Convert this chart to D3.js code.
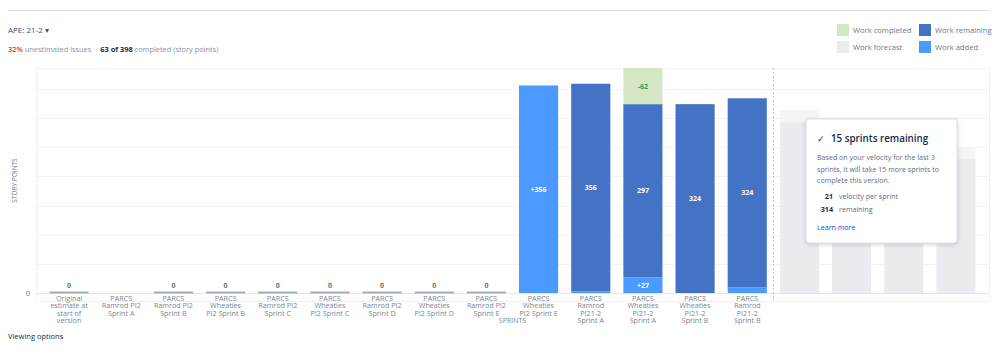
<!DOCTYPE html>
<html>
<head>
<meta charset="utf-8">
<script src="https://cdn.jsdelivr.net/npm/d3@7"></script>
<style>
  body { margin: 0; background: #fff; font-family: "Open Sans", sans-serif; }
  svg text { font-family: "Open Sans", sans-serif; }
</style>
</head>
<body>
<div id="chart"></div>
<script>
// sprint names ("\n" = line break in the axis label)
const sprints = [
  "Original\nestimate at\nstart of\nversion",
  "PARCS\nRamrod PI2\nSprint A",
  "PARCS\nRamrod PI2\nSprint B",
  "PARCS\nWheaties\nPI2 Sprint B",
  "PARCS\nRamrod PI2\nSprint C",
  "PARCS\nWheaties\nPI2 Sprint C",
  "PARCS\nRamrod PI2\nSprint D",
  "PARCS\nWheaties\nPI2 Sprint D",
  "PARCS\nRamrod PI2\nSprint E",
  "PARCS\nWheaties\nPI2 Sprint E",
  "PARCS\nRamrod\nPI21-2\nSprint A",
  "PARCS\nWheaties\nPI21-2\nSprint A",
  "PARCS\nWheaties\nPI21-2\nSprint B",
  "PARCS\nRamrod\nPI21-2\nSprint B"
];
const forecastSprints = ["f1", "f2", "f3", "f4"];

// story points per sprint (null = no data)
const added     = [0, null, 0, 0, 0, 0, 0, 0, 0, 356, 3, 27, 0, 10];
const remaining = [0, null, 0, 0, 0, 0, 0, 0, 0, 0, 356, 297, 324, 324];
const completed = [0, null, 0, 0, 0, 0, 0, 0, 0, 0, 0, 62, 0, 0];

// forecast
const forecastTotal = [314, 293, 272, 251];
const forecastDone  = [21, 21, 21, 21];

const yMax = 386;
const yTicks = [0, 50, 100, 150, 200, 250, 300, 350];

const legendItems = [
  {name: "Work completed", color: "#d6e7c6"},
  {name: "Work forecast", color: "#ebecf0"},
  {name: "Work remaining", color: "#4472c4"},
  {name: "Work added", color: "#4c9aff"}
];

const W = 998, H = 351;
const svg = d3.select("#chart").append("svg")
  .attr("width", W).attr("height", H);

// header
svg.append("line")
  .attr("x1", 8).attr("x2", 990).attr("y1", 10.5).attr("y2", 10.5)
  .attr("stroke", "#dfe1e6");

svg.append("text").attr("x", 8).attr("y", 33)
  .attr("font-size", 8).attr("fill", "#42526e")
  .text("APE: 21-2 \u25BE");

var sub = svg.append("text").attr("x", 8).attr("y", 52).attr("font-size", 7.4);
sub.append("tspan").attr("fill", "#de350b").attr("font-weight", 600).text("32%");
sub.append("tspan").attr("fill", "#8993a4").text(" unestimated issues");
sub.append("tspan").attr("fill", "#172b4d").attr("font-weight", 700).attr("dx", 9).text("63 of 398");
sub.append("tspan").attr("fill", "#8993a4").text(" completed (story points)");

// legend
var lg = svg.append("g").selectAll("g").data(legendItems).enter().append("g")
  .attr("transform", (d, i) => "translate(" + (837 + Math.floor(i / 2) * 82) + "," + (24 + (i % 2) * 17) + ")");
lg.append("rect").attr("width", 12).attr("height", 12).attr("fill", d => d.color);
lg.append("text").attr("x", 16).attr("y", 8.5).attr("font-size", 7.6)
  .attr("fill", "#6b778c").text(d => d.name);

// plot area
const pLeft = 36, pRight = 989, pTop = 68, pBottom = 293;

var x = d3.scaleBand()
  .domain(sprints.concat(forecastSprints))
  .range([43, 982])
  .paddingInner(0.25)
  .paddingOuter(0.125);

var y = d3.scaleLinear().domain([0, yMax]).range([pBottom, pTop]);

svg.append("rect")
  .attr("x", pLeft + 0.5).attr("y", pTop + 0.5)
  .attr("width", pRight - pLeft).attr("height", pBottom - pTop + 8)
  .attr("fill", "none").attr("stroke", "#f0f1f3");

// gridlines
svg.append("g").selectAll("line").data(yTicks).enter().append("line")
  .attr("x1", pLeft).attr("x2", pRight)
  .attr("y1", d => Math.round(y(d)) + 0.5).attr("y2", d => Math.round(y(d)) + 0.5)
  .attr("stroke", d => d == 0 ? "#e4e6ea" : "#f1f2f4");

svg.append("text").attr("x", 30).attr("y", y(0) + 3)
  .attr("text-anchor", "end").attr("font-size", 7.5).attr("fill", "#6b778c").text("0");

svg.append("text")
  .attr("transform", "translate(17," + ((pTop + pBottom) / 2) + ") rotate(-90)")
  .attr("text-anchor", "middle").attr("font-size", 6.5).attr("fill", "#6b778c")
  .text("STORY POINTS");

// forecast bars
var fc = svg.append("g").selectAll("g").data(forecastSprints).enter().append("g");
fc.append("rect")
  .attr("x", d => x(d)).attr("width", x.bandwidth())
  .attr("y", (d, i) => y(forecastTotal[i] - forecastDone[i]))
  .attr("height", (d, i) => y(0) - y(forecastTotal[i] - forecastDone[i]))
  .attr("fill", "#ebecf0");
fc.append("rect")
  .attr("x", d => x(d)).attr("width", x.bandwidth())
  .attr("y", (d, i) => y(forecastTotal[i]))
  .attr("height", (d, i) => y(forecastTotal[i] - forecastDone[i]) - y(forecastTotal[i]))
  .attr("fill", "#f4f5f7");

// divider between actual and forecast
var divX = x(sprints[sprints.length - 1]) + x.bandwidth() + x.step() * x.paddingInner() / 2;
svg.append("line")
  .attr("x1", Math.round(divX) + 0.5).attr("x2", Math.round(divX) + 0.5)
  .attr("y1", pTop).attr("y2", pBottom + 8)
  .attr("stroke", "#c1c7d0").attr("stroke-dasharray", "2,2");

// sprint bars
var bars = svg.append("g").selectAll("g").data(sprints).enter().append("g");

bars.each(function(d, i) {
  var g = d3.select(this);
  var bx = x(d), bw = x.bandwidth();
  if (added[i] === null) return;
  var a = added[i], r = remaining[i], c = completed[i];
  if (a + r + c == 0) {
    // empty sprint: thin base line and a 0
    g.append("rect").attr("x", bx).attr("width", bw)
      .attr("y", y(0) - 1.5).attr("height", 2).attr("fill", "#a5adba");
    g.append("text").attr("x", bx + bw / 2).attr("y", y(0) - 5)
      .attr("text-anchor", "middle").attr("font-size", 7).attr("font-weight", 700)
      .attr("fill", "#6b6f78").text("0");
    return;
  }
  if (a > 0) {
    g.append("rect").attr("x", bx).attr("width", bw)
      .attr("y", y(a)).attr("height", y(0) - y(a)).attr("fill", "#4c9aff");
    if (a >= 20) {
      g.append("text").attr("x", bx + bw / 2).attr("y", (y(0) + y(a)) / 2 + 2.5)
        .attr("text-anchor", "middle").attr("font-size", 7).attr("font-weight", 700)
        .attr("fill", "#fff").text("+" + a);
    }
  }
  if (r > 0) {
    g.append("rect").attr("x", bx).attr("width", bw)
      .attr("y", y(a + r)).attr("height", y(a) - y(a + r)).attr("fill", "#4472c4");
    g.append("text").attr("x", bx + bw / 2).attr("y", (y(a) + y(a + r)) / 2 + 2.5)
      .attr("text-anchor", "middle").attr("font-size", 7).attr("font-weight", 700)
      .attr("fill", "#fff").text(r);
  }
  if (c > 0) {
    g.append("rect").attr("x", bx).attr("width", bw)
      .attr("y", y(a + r + c)).attr("height", y(a + r) - y(a + r + c)).attr("fill", "#d6e7c6");
    g.append("text").attr("x", bx + bw / 2).attr("y", (y(a + r) + y(a + r + c)) / 2 + 2.5)
      .attr("text-anchor", "middle").attr("font-size", 7).attr("font-weight", 700)
      .attr("fill", "#2f9a62").text("-" + c);
  }
});

// sprint labels
bars.append("text")
  .attr("x", d => x(d) + x.bandwidth() / 2)
  .attr("y", 301)
  .attr("text-anchor", "middle").attr("font-size", 7.2).attr("fill", "#7a869a")
  .selectAll("tspan").data(d => d.split("\n")).enter().append("tspan")
    .attr("x", function() { return this.parentNode.getAttribute("x"); })
    .attr("dy", (d, i) => i == 0 ? 0 : 7.3)
    .text(d => d);

svg.append("text").attr("x", (pLeft + pRight) / 2).attr("y", 323)
  .attr("text-anchor", "middle").attr("font-size", 7).attr("fill", "#7a869a")
  .text("SPRINTS");

svg.append("text").attr("x", 8).attr("y", 339)
  .attr("font-size", 7.5).attr("fill", "#172b4d").text("Viewing options");

// forecast tooltip
var tip = svg.append("g").attr("transform", "translate(806,119)");
tip.append("rect").attr("width", 151).attr("height", 124).attr("rx", 3)
  .attr("fill", "#fff").attr("stroke", "#dfe1e6")
  .style("filter", "drop-shadow(0 1px 2px rgba(9,30,66,0.2))");
tip.append("text").attr("x", 11).attr("y", 23).attr("font-size", 9)
  .attr("fill", "#172b4d").text("\u2713");
tip.append("text").attr("x", 25).attr("y", 23).attr("font-size", 9.8)
  .attr("font-weight", 600).attr("fill", "#172b4d").text("15 sprints remaining");
var body = ["Based on your velocity for the last 3", "sprints, it will take 15 more sprints to", "complete this version."];
tip.append("g").selectAll("text").data(body).enter().append("text")
  .attr("x", 11).attr("y", (d, i) => 41 + i * 11.5)
  .attr("font-size", 7.1).attr("fill", "#5e6c84").text(d => d);
var stats = [{v: "21", t: "velocity per sprint"}, {v: "314", t: "remaining"}];
var st = tip.append("g").selectAll("g").data(stats).enter().append("g")
  .attr("transform", (d, i) => "translate(0," + (80 + i * 12.5) + ")");
st.append("text").attr("x", 27).attr("text-anchor", "end").attr("font-size", 7.2)
  .attr("font-weight", 700).attr("fill", "#172b4d").text(d => d.v);
st.append("text").attr("x", 33).attr("font-size", 7.1)
  .attr("fill", "#5e6c84").text(d => d.t);
tip.append("text").attr("x", 11).attr("y", 111).attr("font-size", 7.1)
  .attr("fill", "#0052cc").text("Learn more");
</script>
</body>
</html>
